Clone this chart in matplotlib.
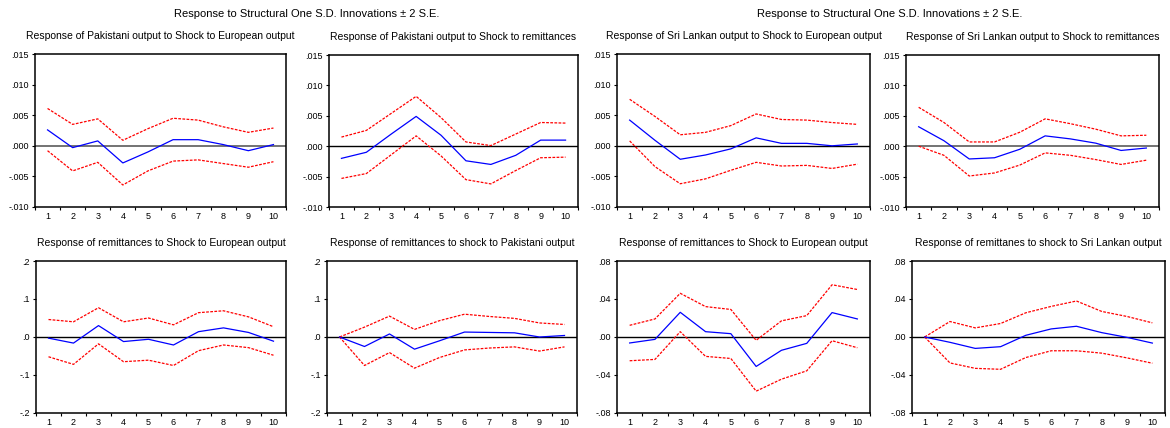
import matplotlib
matplotlib.use("Agg")
import matplotlib.pyplot as plt
import numpy as np

plt.rcParams['font.family'] = ['Liberation Sans', 'DejaVu Sans']

steps = list(range(1, 11))
step_labels = [str(s) for s in steps]

main_titles = ["Response to Structural One S.D. Innovations \u00b1 2 S.E.",
               "Response to Structural One S.D. Innovations \u00b1 2 S.E."]

titles = [
    "Response of Pakistani output to Shock to European output",
    "Response of Pakistani output to Shock to remittances",
    "Response of Sri Lankan output to Shock to European output",
    "Response of Sri Lankan output to Shock to remittances",
    "Response of remittances to Shock to European output",
    "Response of remittances to shock to Pakistani output",
    "Response of remittances to Shock to European output",
    "Response of remittanes to shock to Sri Lankan output",
]

# impulse responses (blue) and +/- 2 S.E. bands (red)
resp_1 = [0.0026, -0.0003, 0.0008, -0.0028, -0.0010, 0.0010, 0.0010, 0.0002, -0.0008, 0.0002]
up_1 = [0.0061, 0.0035, 0.0044, 0.0009, 0.0028, 0.0045, 0.0042, 0.0031, 0.0022, 0.0029]
lo_1 = [-0.0008, -0.0041, -0.0027, -0.0064, -0.0041, -0.0025, -0.0023, -0.0029, -0.0035, -0.0026]

resp_2 = [-0.0020, -0.0010, 0.0020, 0.0049, 0.0018, -0.0024, -0.0030, -0.0015, 0.0010, 0.0010]
up_2 = [0.0015, 0.0026, 0.0054, 0.0082, 0.0047, 0.0007, 0.0001, 0.0020, 0.0039, 0.0038]
lo_2 = [-0.0053, -0.0045, -0.0014, 0.0017, -0.0016, -0.0055, -0.0062, -0.0040, -0.0019, -0.0018]

resp_3 = [0.0042, 0.0009, -0.0022, -0.0015, -0.0005, 0.0013, 0.0004, 0.0004, 0.0000, 0.0003]
up_3 = [0.0076, 0.0048, 0.0018, 0.0022, 0.0033, 0.0052, 0.0043, 0.0042, 0.0038, 0.0035]
lo_3 = [0.0008, -0.0034, -0.0062, -0.0054, -0.0040, -0.0027, -0.0033, -0.0032, -0.0037, -0.0030]

resp_4 = [0.0032, 0.0009, -0.0021, -0.0019, -0.0005, 0.0017, 0.0012, 0.0005, -0.0007, -0.0003]
up_4 = [0.0064, 0.0039, 0.0007, 0.0007, 0.0023, 0.0045, 0.0037, 0.0028, 0.0017, 0.0018]
lo_4 = [0.0000, -0.0015, -0.0049, -0.0044, -0.0031, -0.0011, -0.0015, -0.0022, -0.0030, -0.0023]

resp_5 = [-0.003, -0.016, 0.030, -0.012, -0.006, -0.021, 0.014, 0.024, 0.012, -0.011]
up_5 = [0.046, 0.040, 0.077, 0.040, 0.050, 0.032, 0.064, 0.069, 0.053, 0.027]
lo_5 = [-0.052, -0.072, -0.018, -0.065, -0.061, -0.075, -0.036, -0.021, -0.028, -0.048]

resp_6 = [0.000, -0.025, 0.008, -0.032, -0.010, 0.013, 0.012, 0.011, 0.000, 0.004]
up_6 = [0.000, 0.026, 0.055, 0.020, 0.043, 0.060, 0.054, 0.049, 0.037, 0.033]
lo_6 = [0.000, -0.075, -0.041, -0.082, -0.054, -0.034, -0.029, -0.026, -0.037, -0.026]

resp_7 = [-0.0063, -0.0025, 0.0260, 0.0056, 0.0035, -0.0310, -0.0140, -0.0067, 0.0257, 0.0190]
up_7 = [0.0123, 0.0190, 0.0460, 0.0320, 0.0290, -0.0035, 0.0170, 0.0225, 0.0550, 0.0500]
lo_7 = [-0.0250, -0.0236, 0.0056, -0.0204, -0.0226, -0.0570, -0.0444, -0.0356, -0.0039, -0.0113]

resp_8 = [0.0000, -0.0056, -0.0120, -0.0102, 0.0018, 0.0085, 0.0113, 0.0046, -0.0004, -0.0064]
up_8 = [0.0000, 0.0163, 0.0096, 0.0142, 0.0255, 0.0322, 0.0379, 0.0269, 0.0216, 0.0149]
lo_8 = [0.0000, -0.0273, -0.0330, -0.0340, -0.0216, -0.0145, -0.0145, -0.0170, -0.0220, -0.0276]

responses = [resp_1, resp_2, resp_3, resp_4, resp_5, resp_6, resp_7, resp_8]
uppers = [up_1, up_2, up_3, up_4, up_5, up_6, up_7, up_8]
lowers = [lo_1, lo_2, lo_3, lo_4, lo_5, lo_6, lo_7, lo_8]

ticks_out = [-0.010, -0.005, 0.0, 0.005, 0.010, 0.015]
labels_out = ["-.010", "-.005", ".000", ".005", ".010", ".015"]
ticks_pk = [-0.2, -0.1, 0.0, 0.1, 0.2]
labels_pk = ["-.2", "-.1", ".0", ".1", ".2"]
ticks_sl = [-0.08, -0.04, 0.0, 0.04, 0.08]
labels_sl = ["-.08", "-.04", ".00", ".04", ".08"]
yticks = [ticks_out] * 4 + [ticks_pk, ticks_pk, ticks_sl, ticks_sl]
ylabels = [labels_out] * 4 + [labels_pk, labels_pk, labels_sl, labels_sl]

W, H = 1170, 428
fig = plt.figure(figsize=(W / 100, H / 100), dpi=100)

# axes boxes in pixels: left, right, top, bottom
boxes = [
    (35, 286, 54, 207), (329, 578, 55, 207), (617, 870, 54, 207), (906, 1159, 55, 207),
    (36, 286, 261, 413), (327, 577, 261, 413), (617, 870, 261, 413), (912, 1165, 261, 413),
]
zero_cols = ['0.45', 'k', 'k', '0.45', 'k', 'k', 'k', 'k']
zero_lw = [1.4, 1.0, 1.0, 1.4, 1.0, 1.0, 1.0, 1.0]

for i in range(8):
    l, r, t, b = boxes[i]
    ax = fig.add_axes([l / W, 1 - b / H, (r - l) / W, (b - t) / H])
    ax.axhline(0, color=zero_cols[i], lw=zero_lw[i], zorder=1)
    ax.plot(steps, uppers[i], color='red', lw=0.9, ls=(0, (2.2, 1.1)), zorder=2)
    ax.plot(steps, lowers[i], color='red', lw=0.9, ls=(0, (2.2, 1.1)), zorder=2)
    ax.plot(steps, responses[i], color='blue', lw=0.9, zorder=3)
    ax.set_xlim(0.5, 10.5)
    ax.set_ylim(yticks[i][0], yticks[i][-1])
    ax.set_yticks(yticks[i])
    ax.set_yticklabels(ylabels[i], fontsize=6.5)
    ax.set_xticks(np.arange(0.5, 11, 1.0))
    ax.set_xticklabels([])
    ax.set_xticks(steps, minor=True)
    ax.set_xticklabels(step_labels, minor=True, fontsize=6.5)
    ax.tick_params(axis='x', which='major', direction='out', length=2.5, width=0.8)
    ax.tick_params(axis='x', which='minor', length=0, pad=3.5)
    ax.tick_params(axis='y', direction='out', length=2.5, width=0.8, pad=2)
    for s in ax.spines.values():
        s.set_linewidth(1.1)
    ax.set_title(titles[i], fontsize=7.5, pad=11)

fig.text(307 / W, 1 - 14 / H, main_titles[0], ha='center', va='center', fontsize=8)
fig.text(890 / W, 1 - 14 / H, main_titles[1], ha='center', va='center', fontsize=8)

fig.savefig("out.png", dpi=100)
